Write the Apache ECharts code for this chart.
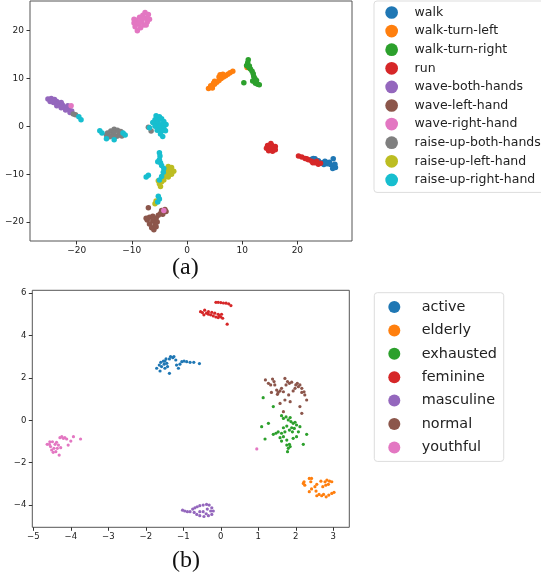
<!DOCTYPE html>
<html>
<head>
<meta charset="utf-8">
<script src="https://cdn.jsdelivr.net/npm/echarts@6/dist/echarts.min.js"></script>
<style>html,body{margin:0;padding:0;background:#fff}#c{width:541px;height:577px}</style>
</head>
<body>
<div id="c"></div>
<script>
// ---------- Panel (a): actions ----------
const namesA = ['walk','walk-turn-left','walk-turn-right','run','wave-both-hands','wave-left-hand','wave-right-hand','raise-up-both-hands','raise-up-left-hand','raise-up-right-hand'];
const colors = ['#1f77b4','#ff7f0e','#2ca02c','#d62728','#9467bd','#8c564b','#e377c2','#7f7f7f','#bcbd22','#17becf'];
const ticksA_x = [-20,-10,0,10,20];
const ticksA_y = [-20,-10,0,10,20];

const walk = [[22.6,-6.9],[23.2,-6.8],[23.0,-7.2],[23.8,-7.2],[24.5,-7.6],[25.0,-7.3],[25.4,-7.8],[25.8,-7.5],[26.0,-8.0],[26.5,-8.3],[26.9,-8.6],[26.4,-8.8],[26.8,-7.9],[26.5,-6.8],[24.8,-8.0],[22.9,-6.7],[25.2,-7.5]];
const walkTurnLeft = [[3.9,7.9],[4.3,8.5],[4.6,8.0],[5.0,8.8],[5.4,9.2],[5.0,9.4],[5.8,9.6],[6.2,10.0],[5.8,10.3],[6.6,10.3],[7.0,10.6],[6.5,10.9],[7.4,10.9],[7.8,11.2],[8.3,11.5],[4.4,8.2],[6.0,10.8],[4.8,9.0],[10.9,12.3]];
const walkTurnRight = [[11.1,13.9],[11.0,13.3],[10.8,12.7],[11.3,12.6],[11.5,12.0],[11.8,11.5],[12.0,11.0],[12.1,10.4],[12.3,10.0],[11.9,9.5],[12.4,9.0],[12.8,8.8],[13.1,8.7],[12.6,9.6],[10.3,9.1],[11.2,12.3]];
const run = [[15.2,-3.6],[14.6,-4.0],[15.4,-4.0],[16.0,-4.2],[14.4,-4.6],[15.0,-4.6],[15.7,-4.6],[14.8,-5.1],[15.5,-5.2],[16.0,-4.9],[15.2,-4.3],
  [20.2,-6.2],[20.8,-6.4],[21.4,-6.7],[22.0,-7.0],[22.6,-7.3],[23.2,-7.6],[23.8,-7.9],[24.2,-7.7],[23.5,-7.3],[22.8,-7.6],[21.7,-6.8]];
const waveBothHands = [[-25.2,5.7],[-24.6,5.8],[-24.0,5.6],[-24.8,5.2],[-24.2,5.0],[-23.6,5.2],[-23.2,4.8],[-22.8,5.0],[-22.6,4.5],[-23.6,4.3],[-22.2,4.0],[-21.6,4.3],[-21.4,3.6],[-22.0,3.4],[-20.9,3.2],[-21.2,2.9],[-24.2,5.4],[-22.8,3.9]];
const waveLeftHand = [[-4.0,-17.4],[-4.6,-17.6],[-3.8,-17.8],[-4.8,-18.2],[-5.2,-18.6],[-4.4,-18.4],[-5.6,-19.2],[-6.8,-19.0],[-7.2,-19.6],[-6.2,-19.8],[-5.4,-20.0],[-6.8,-20.4],[-5.8,-20.6],[-6.4,-21.2],[-6.0,-21.6],[-5.6,-21.0],[-7.4,-19.2],[-7.0,-17.0],[-6.2,-18.8]];
const waveRightHand = [[-7.6,23.8],[-7.0,23.4],[-8.0,23.2],[-8.6,22.8],[-7.4,22.6],[-6.8,22.4],[-9.2,22.2],[-8.2,22.0],[-7.2,21.8],[-9.6,21.6],[-8.8,21.4],[-7.8,21.2],[-9.4,20.8],[-8.4,20.6],[-9.0,20.0],[-8.6,21.6],[-8.0,22.6],[-9.6,22.4],[-7.4,21.2],[-4.2,-17.6],[-21.0,4.3]];
const raiseBothHands = [[-13.2,-0.6],[-12.6,-0.8],[-13.8,-1.0],[-12.0,-1.1],[-14.4,-1.4],[-13.2,-1.3],[-12.2,-1.6],[-11.6,-1.5],[-14.6,-1.8],[-13.6,-1.9],[-12.6,-2.0],[-13.0,-2.2],[-14.0,-2.2],[-11.8,-2.0],
  [-20.6,2.6],[-20.2,2.4],[-7.0,-0.2],[-6.5,-1.0]];
const raiseLeftHand = [[-3.4,-8.4],[-2.8,-8.6],[-3.8,-9.0],[-3.0,-9.2],[-2.4,-9.4],[-3.6,-9.8],[-2.8,-10.0],[-3.4,-10.6],[-4.0,-10.4],[-4.2,-11.2],[-4.6,-11.6],[-5.0,-12.0],[-4.8,-12.6],[-5.2,-11.4],[-5.8,-16.2],[-5.6,-15.6]];
const raiseRightHand = [[-19.6,2.0],[-19.2,1.4],
  [-15.8,-0.9],[-15.4,-1.4],[-14.6,-2.6],[-13.2,-2.8],[-11.2,-1.8],[-11.6,-1.4],
  [-5.6,2.2],[-5.0,2.0],[-4.6,1.6],[-5.8,1.4],[-5.2,1.2],[-4.2,1.0],[-6.2,0.8],[-5.4,0.6],[-4.6,0.4],[-3.8,0.4],[-5.8,0.0],[-5.0,-0.2],[-4.2,-0.4],[-6.8,-0.3],[-5.4,-0.8],[-4.6,-1.0],[-4.8,-1.6],[-4.4,-2.1],[-3.9,-0.9],
  [-5.0,-5.5],[-4.9,-6.2],[-5.0,-7.0],[-4.8,-7.6],[-5.3,-7.4],[-4.6,-8.2],[-4.2,-8.8],[-4.3,-9.6],[-4.6,-10.5],[-5.0,-11.2],
  [-7.0,-10.2],[-7.4,-10.6],[-5.2,-14.6],[-5.0,-15.2],[-5.3,-15.8]];
const dataA = [walk,walkTurnLeft,walkTurnRight,run,waveBothHands,waveLeftHand,waveRightHand,raiseBothHands,raiseLeftHand,raiseRightHand];

// ---------- Panel (b): styles ----------
const namesB = ['active','elderly','exhausted','feminine','masculine','normal','youthful'];
const ticksB_x = [-5,-4,-3,-2,-1,0,1,2,3];
const ticksB_y = [-4,-2,0,2,4,6];

const active = [[-1.71,2.46],[-1.64,2.61],[-1.60,2.74],[-1.58,2.54],[-1.53,2.80],[-1.51,2.65],[-1.49,2.46],[-1.46,2.90],[-1.44,2.69],[-1.42,2.54],[-1.37,2.90],[-1.34,3.01],[-1.28,2.96],[-1.25,3.01],[-1.37,2.22],[-1.62,2.33],[-1.18,2.61],[-1.13,2.46],[-1.09,2.65],[-1.04,2.77],[-0.98,2.80],[-0.91,2.77],[-0.82,2.74],[-0.72,2.74],[-0.57,2.68],[-1.20,2.85],[-1.49,2.80]];
const elderly = [[2.20,-2.98],[2.24,-3.06],[2.22,-2.90],[2.36,-2.74],[2.42,-2.74],[2.40,-2.90],[2.36,-3.37],[2.42,-3.24],[2.51,-3.13],[2.56,-3.02],[2.67,-2.87],[2.72,-3.13],[2.78,-2.90],[2.83,-2.82],[2.90,-2.87],[2.96,-2.90],[2.87,-3.02],[2.80,-3.06],[2.62,-3.50],[2.69,-3.56],[2.74,-3.50],[2.81,-3.61],[2.88,-3.53],[2.96,-3.45],[3.02,-3.40],[2.56,-3.56],[2.54,-3.34]];
const exhausted = [[1.13,1.07],[1.27,-0.14],[1.09,-0.30],[1.18,-0.88],[1.40,-0.66],[1.47,-0.61],[1.62,0.22],[1.67,0.09],[1.74,0.16],[1.80,0.02],[1.87,-0.06],[1.93,-0.14],[1.98,-0.09],[2.02,-0.22],[1.89,-0.35],[1.83,-0.46],[1.71,-0.54],[1.62,-0.61],[1.67,-0.77],[1.76,-0.93],[1.76,-1.17],[1.80,-1.32],[1.78,-1.48],[1.85,-1.24],[1.93,-0.85],[2.07,-0.54],[2.11,-0.30],[2.29,-0.66],[2.20,-1.13],[1.53,-0.54],[1.58,-0.82],[2.02,-0.77],[1.91,-0.54],[1.76,-0.27],[1.85,0.13],[1.96,-0.38],[1.67,-0.35],[1.62,-0.98],[1.83,-1.13],[1.40,0.65]];
const feminine = [[-0.13,5.57],[-0.07,5.57],[0.00,5.56],[0.07,5.54],[0.14,5.53],[0.21,5.50],[0.27,5.42],[-0.54,5.13],[-0.49,5.09],[-0.43,5.20],[-0.38,5.06],[-0.33,5.01],[-0.27,4.98],[-0.20,4.93],[-0.13,4.88],[-0.07,4.85],[0.00,4.88],[0.05,4.82],[-0.07,5.01],[0.02,5.01],[-0.16,5.06],[-0.24,5.10],[-0.45,4.98],[0.17,4.54],[-0.33,5.13],[-0.04,4.94]];
const masculine = [[-1.02,-4.24],[-0.96,-4.28],[-0.89,-4.31],[-0.82,-4.31],[-0.75,-4.19],[-0.69,-4.13],[-0.63,-4.08],[-0.56,-4.03],[-0.47,-4.00],[-0.38,-3.97],[-0.31,-4.00],[-0.24,-4.13],[-0.20,-4.28],[-0.24,-4.44],[-0.33,-4.50],[-0.45,-4.54],[-0.56,-4.50],[-0.64,-4.44],[-0.71,-4.35],[-0.56,-4.31],[-0.47,-4.31],[-0.36,-4.19],[-0.27,-4.28],[-0.39,-4.41]];
const normal = [[1.19,1.91],[1.27,1.75],[1.33,1.67],[1.38,1.95],[1.42,1.83],[1.44,1.67],[1.49,1.43],[1.53,1.32],[1.58,1.39],[1.62,1.51],[1.67,1.35],[1.71,1.98],[1.74,1.67],[1.78,1.83],[1.83,1.75],[1.89,1.80],[1.93,1.39],[2.00,1.67],[2.04,1.75],[2.07,1.59],[2.11,1.67],[2.16,1.51],[2.22,1.35],[2.24,1.20],[2.29,0.96],[2.16,1.32],[1.71,0.96],[1.58,0.80],[1.85,0.88],[2.11,0.65],[1.67,0.41],[2.16,0.33],[1.51,1.23],[1.81,1.20],[1.35,1.32],[1.98,1.51]];
const youthful = [[-4.63,-1.13],[-4.57,-1.13],[-4.54,-1.24],[-4.51,-1.40],[-4.47,-1.51],[-4.45,-1.32],[-4.42,-1.13],[-4.38,-1.04],[-4.33,-1.17],[-4.36,-1.32],[-4.31,-1.64],[-4.27,-1.29],[-4.49,-1.01],[-4.29,-0.82],[-4.24,-0.77],[-4.20,-0.85],[-4.16,-0.82],[-4.11,-0.88],[-4.07,-1.17],[-4.00,-0.98],[-3.93,-0.77],[-3.74,-0.88],[-4.40,-1.48],[-4.56,-1.01],[0.96,-1.35]];
const dataB = [active,elderly,exhausted,feminine,masculine,normal,youthful];

const fmt = v => String(v).replace('-', '\u2212');
function axis(gi, min, max, ticks, fs, isX) {
  return {
    type: 'value', gridIndex: gi, min: min, max: max,
    position: isX ? 'bottom' : 'left',
    axisLine: {show: false, onZero: false},
    splitLine: {show: false},
    axisTick: {show: true, inside: false, length: 3.5, customValues: ticks, lineStyle: {color: '#333', width: 1}},
    axisLabel: {customValues: ticks, formatter: fmt, fontSize: fs, color: '#222', margin: isX ? 5 : 6, fontFamily: 'DejaVu Sans'}
  };
}

const series = [];
dataA.forEach((d, i) => series.push({
  type: 'scatter', name: namesA[i], xAxisIndex: 0, yAxisIndex: 0, data: d,
  symbol: 'circle', symbolSize: 5.5, itemStyle: {color: colors[i], opacity: 1}, silent: true
}));
dataB.forEach((d, i) => series.push({
  type: 'scatter', name: namesB[i], xAxisIndex: 1, yAxisIndex: 1, data: d,
  symbol: 'circle', symbolSize: 3.2, itemStyle: {color: colors[i], opacity: 1}, silent: true
}));

const chart = echarts.init(document.getElementById('c'), null, {renderer: 'canvas'});
chart.setOption({
  animation: false,
  backgroundColor: '#fff',
  grid: [
    {left: 30, top: 1, width: 322, height: 240, show: true, borderColor: '#555', borderWidth: 1, containLabel: false},
    {left: 32.3, top: 290.3, width: 317, height: 237, show: true, borderColor: '#555', borderWidth: 1, containLabel: false}
  ],
  xAxis: [axis(0, -28.45, 29.9, ticksA_x, 9, true), axis(1, -5.027, 3.427, ticksB_x, 8.5, true)],
  yAxis: [axis(0, -23.97, 26.2, ticksA_y, 9, false), axis(1, -5.05, 6.14, ticksB_y, 8.5, false)],
  legend: [
    {
      data: namesA, orient: 'vertical', left: 374, top: 1,
      icon: 'circle', itemWidth: 12.7, itemHeight: 12.7, itemGap: 5.6,
      padding: [5, 8, 6, 11.3],
      borderColor: '#ddd', borderWidth: 1, borderRadius: 3,
      selectedMode: false,
      textStyle: {fontSize: 12.5, fontFamily: 'DejaVu Sans', color: '#222', lineHeight: 12.7, padding: [0, 0, 0, 11.6]}
    },
    {
      data: namesB, orient: 'vertical', left: 374.3, top: 292.7,
      icon: 'circle', itemWidth: 12, itemHeight: 12, itemGap: 9.4,
      padding: [7.3, 6.7, 7, 14],
      borderColor: '#ddd', borderWidth: 1, borderRadius: 3,
      selectedMode: false,
      textStyle: {fontSize: 14.4, fontFamily: 'DejaVu Sans', color: '#222', lineHeight: 12, padding: [0, 0, 0, 16.4]}
    }
  ],
  graphic: [
    {type: 'text', left: 172, top: 256, style: {text: '(a)', font: '24px "Liberation Serif"', fill: '#111'}},
    {type: 'text', left: 172, top: 549, style: {text: '(b)', font: '24px "Liberation Serif"', fill: '#111'}}
  ],
  series: series
});
</script>
</body>
</html>
